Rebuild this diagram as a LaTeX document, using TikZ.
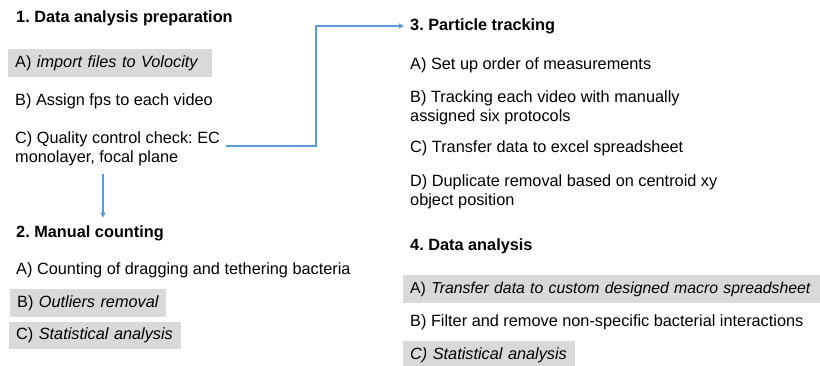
\documentclass[tikz,border=0pt]{standalone}
\usepackage{fontspec}
\setmainfont{Liberation Sans}
\usetikzlibrary{arrows.meta}
\definecolor{flowblue}{HTML}{5B9BD5}
\definecolor{boxgray}{HTML}{D9D9D9}
\frenchspacing
\begin{document}
\begin{tikzpicture}[x=1pt,y=1pt,
  heading/.style={anchor=west,inner sep=0pt,font=\fontsize{16.3}{19}\selectfont\bfseries},
  item/.style={anchor=west,inner sep=0pt,align=left,font=\fontsize{16.3}{19}\selectfont},
  graybox/.style={anchor=west,inner xsep=7pt,inner ysep=0pt,fill=boxgray,minimum height=28pt,align=left,font=\fontsize{16.3}{19}\selectfont},
  link/.style={draw=flowblue,line width=1.4pt,-{Triangle[width=5pt,length=5pt]}}]
\useasboundingbox (0,0) rectangle (820,-365);

% Column 1: preparation and manual counting
\node[heading] (h1) at (16,-18.5) {1. Data analysis preparation};
\node[graybox,text width=190pt] (p1) at (8,-63) {A) \textit{import files to Volocity}};
\node[item] (p2) at (15,-101) {B) Assign fps to each video};
\node[item] (p3) at (15,-149) {C) Quality control check: EC\\monolayer, focal plane};

\node[heading] (h2) at (16,-233.5) {2. Manual counting};
\node[item] (m1) at (16,-270) {A) Counting of dragging and tethering bacteria};
\node[graybox,text width=142pt] (m2) at (10,-303) {B) \textit{Outliers removal}};
\node[graybox,text width=158pt,minimum height=27pt] (m3) at (9,-335.5) {C) \textit{Statistical analysis}};

% Column 2: particle tracking and data analysis
\node[heading] (h3) at (410,-26) {3. Particle tracking};
\node[item] (t1) at (410,-65) {A) Set up order of measurements};
\node[item] (t2) at (410,-107.5) {B) Tracking each video with manually\\assigned six protocols};
\node[item] (t3) at (410,-148) {C) Transfer data to excel spreadsheet};
\node[item] (t4) at (410,-191.5) {D) Duplicate removal based on centroid xy\\object position};

\node[heading] (h4) at (410,-246) {4. Data analysis};
\node[graybox,text width=403pt,font=\fontsize{15.8}{19}\selectfont] (a1) at (403,-289) {\mbox{A) \textit{Transfer data to custom designed macro spreadsheet}}};
\node[item] (a2) at (410,-322) {B) Filter and remove non-specific bacterial interactions};
\node[graybox,text width=158pt] (a3) at (403,-355) {\textit{C) Statistical analysis}};

% Connectors
\coordinate (turn) at (316,-146);
\coordinate (d0) at (103,-174);
\draw[link] ([xshift=6pt,yshift=3pt]p3.east) -- (turn) |- ([xshift=-6pt]h3.west);
\draw[link] (d0) -- ([yshift=8pt]h2.north -| d0);
\end{tikzpicture}
\end{document}
